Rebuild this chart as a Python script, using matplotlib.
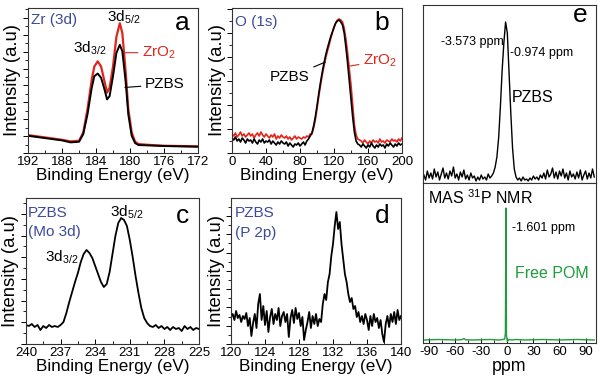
import numpy as np
import matplotlib
matplotlib.use("Agg")
import matplotlib.pyplot as plt
from matplotlib.ticker import MultipleLocator, AutoMinorLocator

plt.rcParams['font.family'] = ['Liberation Sans', 'DejaVu Sans']
plt.rcParams['mathtext.fontset'] = 'custom'
plt.rcParams['mathtext.rm'] = 'Liberation Sans'
plt.rcParams['mathtext.it'] = 'Liberation Sans:italic'
plt.rcParams['axes.unicode_minus'] = False

RED = '#e3241b'
GREEN = '#1f9c3c'
BLUE = '#3c4a9a'

# ---------------- panel a : Zr 3d ----------------
a_energy = [192, 190, 188, 187, 186, 185.5, 185, 184.5, 184.2, 183.8, 183.4, 183, 182.7,
            182.4, 182, 181.6, 181.2, 180.9, 180.5, 180.2, 179.8, 179.4, 179, 178, 176, 174, 172]
a_zro2 = [18, 15.7, 13.3, 11.7, 12.3, 20.7, 44, 74, 87, 92.3, 87, 72, 60.7,
          65.7, 87, 117, 130.7, 120.7, 80.7, 44, 20.7, 11.3, 9, 8.3, 7.3, 7, 6.7]
a_pzbs = [17.3, 15, 12.7, 10.7, 11.3, 19, 39, 65.7, 77.3, 80, 75.7, 64, 54,
          57.3, 77.3, 100.7, 109, 102.3, 70.7, 39, 17.3, 10, 8, 7.7, 7, 6.7, 6.3]

# ---------------- panel b : O 1s ----------------
b_energy = np.arange(0, 201, 2)
b_zro2 = [19, 17, 20, 16, 18, 21, 17, 19, 16, 18, 20,
          17, 19, 15, 18, 20, 17, 21, 18, 16, 19,
          17, 15, 18, 16, 19, 14, 17, 15, 18, 16,
          15, 17, 14, 16, 13, 15, 17, 14, 16, 15,
          14, 16, 15, 17, 16, 19,
          19, 25, 33, 44, 56, 67, 77, 86, 94, 101, 107, 114, 120, 125, 130,
          133, 134, 133, 131, 125, 114, 100, 84, 68, 48, 28, 18, 14, 13,
          12, 10, 13, 11, 9, 12, 10, 13, 11, 12, 10, 14, 11, 12, 10, 13,
          12, 11, 14, 12, 13, 11, 14, 12, 15]
b_pzbs = [15, 13, 16, 12, 14, 11, 15, 13, 10, 14, 12,
          13, 10, 14, 11, 9, 13, 11, 14, 10, 12,
          11, 13, 9, 12, 10, 8, 11, 9, 12, 10,
          9, 11, 7, 10, 8, 6, 9, 8, 10, 7,
          9, 11, 8, 12, 14, 17,
          20, 27, 36, 47, 59, 70, 80, 89, 97, 104, 110, 116, 121, 126, 130,
          132, 133, 131, 128, 120, 106, 90, 72, 54, 36, 21, 12, 9, 8,
          6, 9, 7, 5, 8, 6, 10, 7, 5, 8, 6, 9, 7, 8, 5, 9,
          7, 10, 8, 6, 9, 7, 10, 8, 9]

# ---------------- panel c : Mo 3d ----------------
c_mo3d = [19, 18, 20, 17, 19, 14, 18, 16, 19, 17, 18, 17, 19,      # 240 .. 237
          22, 31, 42, 52, 62, 71, 82, 90, 94, 91, 86, 78,           # 236.75 .. 234
          70, 62, 57, 60, 72, 90, 108, 121, 126, 124, 118, 104,     # 233.75 .. 231
          87, 68, 51, 36, 26, 21, 18, 17, 19, 16, 18, 15,           # 230.75 .. 228
          17, 14, 17, 15, 16, 13, 18, 15, 17, 14, 16, 15]           # 227.75 .. 225
c_energy = np.linspace(240, 225, len(c_mo3d))

# ---------------- panel d : P 2p ----------------
d_p2p = [27, 30, 24, 33, 26,
         29, 22, 28, 25, 31,
         18, 26, 8, 21, 30,
         16, 40, 50, 24, 38,
         19, 33, 12, 27, 35,
         20, 30, 24, 36, 18,
         28, 32, 22, 30, 7,
         26, 34, 21, 36, 25,
         31, 18, 27, 4, 14,
         22, 32, 16, 28, 20,
         30, 18, 25, 22, 40,
         50, 44, 62, 70, 88,
         100, 118, 132, 115, 122,
         100, 85, 70, 62, 50,
         42, 46, 35, 38, 27,
         32, 22, 28, 20, 30,
         24, 14, 28, 18, 30,
         22, 26, 16, 24, 10,
         2, 20, 28, 17, 30,
         22, 32, 20, 34, 24,
         28]
d_energy = np.linspace(120, 140, len(d_p2p))

# ---------------- panel e : 31P MAS NMR ----------------
e_ppm = np.arange(-96, 101, 2)
e_pzbs = [8, 3, 12, 5, 10, 4, 14, 6, 11, 3,
          9, 15, 5, 10, 4, 12, 7, 16, 5, 9,
          3, 11, 6, 13, 4, 8, 3, 10, 5, 7,
          2, 6, 3, 8, 4, 6, 3, 9, 5, 7,
          10, 16, 26, 45, 76, 112, 140, 161, 150, 110,
          70, 35, 14, 6, 3, 5, 2, 6, 3, 4,
          2, 5, 3, 7, 4, 6, 3, 8, 5, 10,
          4, 13, 6, 9, 15, 5, 11, 4, 12, 7,
          14, 5, 10, 3, 12, 6, 9, 4, 11, 5,
          13, 3, 8, 12, 4, 10, 5, 14, 6]
pom_ppm = [-96, -80, -60, -52, -50, -48, -40, -20, -10, -5, -3, -2.2, -1.6, -1.0, 0, 2, 5,
           10, 20, 40, 60, 80, 100]
pom_int = [3, 3.5, 3, 3.4, 4.5, 3.2, 3, 3.5, 3, 3.5, 4, 10, 135, 8, 1.5, 3.5, 3,
           3.5, 3, 3.5, 3, 3.5, 3]

fig = plt.figure(figsize=(6.0, 3.86), dpi=100)

XL = 12.3
YL = 13.3
TK = 9.5
TXT = 11
LET = 19


def style(ax, xmaj, xmin, ymaj, show_y=True):
    for s in ax.spines.values():
        s.set_linewidth(0.8)
        s.set_color('#333333')
    ax.xaxis.set_major_locator(MultipleLocator(xmaj))
    ax.xaxis.set_minor_locator(MultipleLocator(xmin))
    ax.tick_params(axis='x', which='both', direction='in', top=False, labelsize=TK, pad=2)
    ax.tick_params(axis='x', which='major', length=3.5, width=0.7)
    ax.tick_params(axis='x', which='minor', length=2, width=0.6)
    if show_y:
        ax.yaxis.set_major_locator(MultipleLocator(ymaj))
        ax.yaxis.set_minor_locator(AutoMinorLocator(2))
        ax.tick_params(axis='y', which='both', direction='out', labelleft=False, right=False)
        ax.tick_params(axis='y', which='major', length=3.5, width=0.7)
        ax.tick_params(axis='y', which='minor', length=2, width=0.6)
    else:
        ax.tick_params(axis='y', which='both', left=False, labelleft=False)


# panel a
axa = fig.add_axes([28/600, 1-153/386, 170/600, 145/386])
axa.plot(a_energy, a_zro2, color=RED, lw=1.6)
axa.plot(a_energy, a_pzbs, color='black', lw=1.4)
axa.set_xlim(192, 172)
axa.set_ylim(0, 146)
style(axa, 4, 2, 17)
axa.set_xlabel('Binding Energy (eV)', fontsize=XL, labelpad=0)
axa.set_ylabel('Intensity (a.u)', fontsize=YL, labelpad=1.5)
axa.text(0.02, 0.917, 'Zr (3d)', transform=axa.transAxes, color=BLUE, fontsize=TXT, ha='left', va='center')
axa.text(0.905, 0.9, 'a', transform=axa.transAxes, fontsize=LET, ha='center', va='center')
axa.text(180.8, 137, '3d$_{\\mathrm{5/2}}$', fontsize=TXT, ha='center', va='center')
axa.text(184.7, 105, '3d$_{\\mathrm{3/2}}$', fontsize=TXT, ha='center', va='center')
axa.annotate('ZrO$_{\\mathrm{2}}$', xy=(180.7, 101), xytext=(176.6, 101), color=RED, fontsize=TXT,
             ha='center', va='center', arrowprops=dict(arrowstyle='-', color=RED, lw=0.8, shrinkA=1, shrinkB=0))
axa.annotate('PZBS', xy=(180.6, 66), xytext=(175.9, 69), color='black', fontsize=TXT,
             ha='center', va='center', arrowprops=dict(arrowstyle='-', color='black', lw=0.8, shrinkA=1, shrinkB=0))

# panel b
axb = fig.add_axes([232/600, 1-153/386, 170/600, 145/386])
axb.plot(b_energy, b_zro2, color=RED, lw=1.2)
axb.plot(b_energy, b_pzbs, color='black', lw=1.2)
axb.set_xlim(0, 200)
axb.set_ylim(0, 145)
style(axb, 40, 20, 24)
axb.set_xlabel('Binding Energy (eV)', fontsize=XL, labelpad=0)
axb.set_ylabel('Intensity (a.u)', fontsize=YL, labelpad=1)
axb.text(0.018, 0.905, 'O (1s)', transform=axb.transAxes, color=BLUE, fontsize=TXT, ha='left', va='center')
axb.text(0.88, 0.9, 'b', transform=axb.transAxes, fontsize=LET, ha='center', va='center')
axb.annotate('PZBS', xy=(110, 91), xytext=(68, 76), color='black', fontsize=TXT,
             ha='center', va='center', arrowprops=dict(arrowstyle='-', color='black', lw=0.8, shrinkA=1, shrinkB=0))
axb.annotate('ZrO$_{\\mathrm{2}}$', xy=(139, 87), xytext=(174, 92), color=RED, fontsize=TXT,
             ha='center', va='center', arrowprops=dict(arrowstyle='-', color=RED, lw=0.8, shrinkA=1, shrinkB=0))

# panel c
axc = fig.add_axes([26/600, 1-344/386, 173/600, 146/386])
axc.plot(c_energy, c_mo3d, color='black', lw=1.3)
axc.set_xlim(240, 225)
axc.set_ylim(0, 146)
style(axc, 3, 1.5, 21.7)
axc.set_xlabel('Binding Energy (eV)', fontsize=XL, labelpad=0)
axc.set_ylabel('Intensity (a.u)', fontsize=YL, labelpad=1.5)
axc.text(0.012, 0.897, 'PZBS', transform=axc.transAxes, color=BLUE, fontsize=TXT, ha='left', va='center')
axc.text(0.012, 0.769, '(Mo 3d)', transform=axc.transAxes, color=BLUE, fontsize=TXT, ha='left', va='center')
axc.text(0.907, 0.88, 'c', transform=axc.transAxes, fontsize=LET, ha='center', va='center')
axc.text(231.3, 132, '3d$_{\\mathrm{5/2}}$', fontsize=TXT, ha='center', va='center')
axc.text(236.9, 87, '3d$_{\\mathrm{3/2}}$', fontsize=TXT, ha='center', va='center')

# panel d
axd = fig.add_axes([231/600, 1-344/386, 170/600, 146/386])
axd.plot(d_energy, d_p2p, color='black', lw=1.3)
axd.set_xlim(120, 140)
axd.set_ylim(0, 146)
style(axd, 4, 2, 18.3)
axd.set_xlabel('Binding Energy (eV)', fontsize=XL, labelpad=0)
axd.set_ylabel('Intensity (a.u)', fontsize=YL, labelpad=1)
axd.text(0.024, 0.897, 'PZBS', transform=axd.transAxes, color=BLUE, fontsize=TXT, ha='left', va='center')
axd.text(0.024, 0.76, '(P 2p)', transform=axd.transAxes, color=BLUE, fontsize=TXT, ha='left', va='center')
axd.text(0.892, 0.88, 'd', transform=axd.transAxes, fontsize=LET, ha='center', va='center')

# panel e (two stacked axes)
axe1 = fig.add_axes([423/600, 1-183/386, 173/600, 178/386])
axe1.plot(e_ppm, e_pzbs, color='black', lw=1.0)
axe1.set_xlim(-97, 102)
axe1.set_ylim(0, 178)
for s in axe1.spines.values():
    s.set_linewidth(0.8)
    s.set_color('#333333')
axe1.set_xticks([])
axe1.set_yticks([])
axe1.text(-4.4, 141, '-3.573 ppm', fontsize=9, ha='right', va='center')
axe1.text(3, 130, '-0.974 ppm', fontsize=9, ha='left', va='center')
axe1.text(4.6, 86, 'PZBS', fontsize=TXT + 0.5, ha='left', va='center')
axe1.text(0.907, 0.944, 'e', transform=axe1.transAxes, fontsize=LET, ha='center', va='center')

axe2 = fig.add_axes([423/600, 1-343/386, 173/600, 160/386])
axe2.plot(pom_ppm, pom_int, color=GREEN, lw=1.0)
axe2.set_xlim(-97, 102)
axe2.set_ylim(0, 160)
style(axe2, 30, 15, 20, show_y=False)
axe2.set_xlabel('ppm', fontsize=XL + 0.5, labelpad=0)
axe2.text(0.03, 0.91, 'MAS $^{\\mathrm{31}}$P NMR', transform=axe2.transAxes, fontsize=TXT + 0.5,
          ha='left', va='center')
axe2.text(5, 115, '-1.601 ppm', fontsize=9, ha='left', va='center')
axe2.text(8.9, 70, 'Free POM', color=GREEN, fontsize=TXT + 0.5, ha='left', va='center')

fig.savefig('out.png', dpi=100)
